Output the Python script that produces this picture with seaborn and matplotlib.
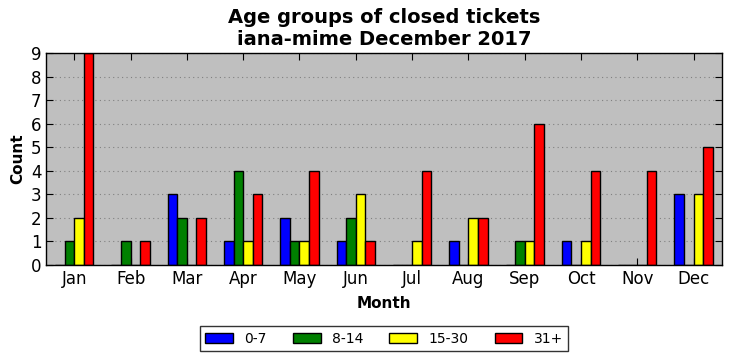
import pandas as pd
import matplotlib
matplotlib.use("Agg")
import matplotlib.pyplot as plt
import seaborn as sns

# data
months = ["Jan", "Feb", "Mar", "Apr", "May", "Jun",
          "Jul", "Aug", "Sep", "Oct", "Nov", "Dec"]
groups = ["0-7", "8-14", "15-30", "31+"]
age_0_7 = [0, 0, 3, 1, 2, 1, 0, 1, 0, 1, 0, 3]
age_8_14 = [1, 1, 2, 4, 1, 2, 0, 0, 1, 0, 0, 0]
age_15_30 = [2, 0, 0, 1, 1, 3, 1, 2, 1, 1, 0, 3]
age_31_plus = [9, 1, 2, 3, 4, 1, 4, 2, 6, 4, 4, 5]
colors = ["#0000ff", "#008000", "#ffff00", "#ff0000"]

# long format table for seaborn
rows = []
for g, vals in zip(groups, [age_0_7, age_8_14, age_15_30, age_31_plus]):
    for m, v in zip(months, vals):
        rows.append({"Month": m, "Group": g, "Count": v})
df = pd.DataFrame(rows)

sns.set_style("ticks")
plt.rcParams["font.family"] = ["DejaVu Sans"]
plt.rcParams["text.color"] = "black"
plt.rcParams["axes.labelcolor"] = "black"
plt.rcParams["xtick.color"] = "black"
plt.rcParams["ytick.color"] = "black"

fig = plt.figure(figsize=(7.32, 3.61), dpi=100)
ax = fig.add_axes([0.063, 0.266, 0.923, 0.587])
ax.set_facecolor("#bfbfbf")

sns.barplot(data=df, x="Month", y="Count", hue="Group", order=months,
            hue_order=groups, palette=colors, width=0.68,
            edgecolor="black", linewidth=1, saturation=1, ax=ax)

ax.set_ylim(0, 9)
ax.set_xlim(-0.5, 11.5)
ax.set_yticks(range(0, 10))
ax.yaxis.grid(True, linestyle=(0, (1, 3)), color="#808080", linewidth=0.8)
ax.set_axisbelow(True)
for s in ax.spines.values():
    s.set_color("black")
    s.set_linewidth(1)

ax.tick_params(axis="both", direction="in", top=True, right=True,
               labelsize=12, length=5, color="black", labelcolor="black")

ax.set_title("Age groups of closed tickets\niana-mime December 2017",
             fontsize=14, fontweight="bold", linespacing=1.15, color="black")
ax.set_xlabel("Month", fontsize=11, fontweight="bold", labelpad=6)
ax.set_ylabel("Count", fontsize=11, fontweight="bold")

leg = ax.legend(loc="upper center", bbox_to_anchor=(0.5, -0.255), ncol=4,
                fontsize=10, frameon=True, fancybox=False, columnspacing=1.9,
                handlelength=2.0, borderpad=0.4)
leg.get_frame().set_edgecolor("black")
leg.get_frame().set_linewidth(1)
for t in leg.get_texts():
    t.set_color("black")

fig.savefig("out.png", dpi=100)
